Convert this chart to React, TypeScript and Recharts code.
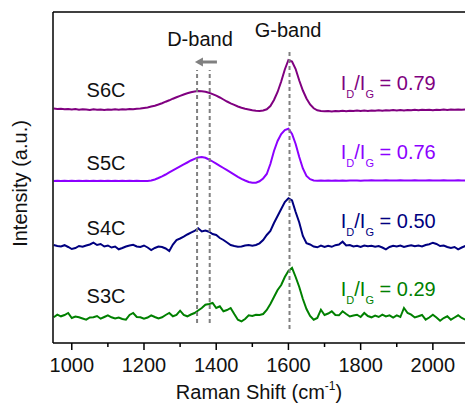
import React from 'react';
import { LineChart, Line, XAxis, YAxis, ReferenceLine, ReferenceDot } from 'recharts';

const FONT = '"Liberation Sans", Arial, Helvetica, sans-serif';

// Raman shift (cm^-1)
const ramanShift: number[] = [
  950, 960, 970, 980, 990, 1000, 1010, 1020, 1030, 1040,
  1050, 1060, 1070, 1080, 1090, 1100, 1110, 1120, 1130, 1140,
  1150, 1160, 1170, 1180, 1190, 1200, 1210, 1220, 1230, 1240,
  1250, 1260, 1270, 1280, 1290, 1300, 1310, 1320, 1330, 1340,
  1350, 1360, 1370, 1380, 1390, 1400, 1410, 1420, 1430, 1440,
  1450, 1460, 1470, 1480, 1490, 1500, 1510, 1520, 1530, 1540,
  1550, 1560, 1570, 1580, 1590, 1600, 1610, 1620, 1630, 1640,
  1650, 1660, 1670, 1680, 1690, 1700, 1710, 1720, 1730, 1740,
  1750, 1760, 1770, 1780, 1790, 1800, 1810, 1820, 1830, 1840,
  1850, 1860, 1870, 1880, 1890, 1900, 1910, 1920, 1930, 1940,
  1950, 1960, 1970, 1980, 1990, 2000, 2010, 2020, 2030, 2040,
  2050, 2060, 2070, 2080, 2090,
];

// Intensities (a.u.) relative to each spectrum's own baseline
const s6c: number[] = [
  1.0, 0.5, 0.8, 0.2, 0.6, 0.0, 0.4, -0.2, 0.3, 0.0,
  -0.4, 0.2, -0.3, 0.1, -0.5, 0.0, -0.3, 0.2, -0.2, 0.3,
  0.0, 0.4, 0.2, 0.8, 1.0, 1.6, 2.0, 3.0, 3.8, 5.0,
  6.3, 7.8, 9.2, 10.8, 12.2, 13.6, 15.0, 16.2, 17.2, 18.0,
  18.6, 18.2, 17.8, 16.8, 15.4, 13.8, 12.0, 10.0, 8.0, 6.2,
  4.6, 3.0, 1.8, 0.8, 0.0, -0.8, -1.2, -1.4, -1.0, 0.2,
  3.5, 9.5, 17.5, 28.0, 40.0, 49.5, 48.0, 40.5, 29.0, 19.0,
  11.0, 5.0, 1.2, -0.8, -1.6, -1.8, -1.4, -2.0, -1.5, -1.8,
  -1.2, -1.7, -1.3, -1.6, -1.0, -1.5, -1.1, -1.4, -0.9, -1.3,
  -0.8, -1.2, -0.7, -1.1, -0.6, -1.0, -0.4, -0.9, -0.5, -0.8,
  -0.3, -0.7, -0.2, -0.6, -0.3, -0.7, -0.2, -0.5, -0.1, -0.4,
  0.0, -0.3, 0.1, -0.2, 0.0,
];

const s5c: number[] = [
  0.0, 0.2, 0.0, 0.3, 0.1, 0.2, 0.0, 0.3, 0.1, 0.2,
  0.0, 0.2, 0.1, 0.3, 0.0, 0.2, 0.1, 0.3, 0.0, 0.2,
  0.1, 0.3, 0.0, 0.2, 0.1, 0.0, 0.0, 0.5, 1.5, 3.0,
  4.6, 6.5, 8.6, 10.6, 12.6, 14.6, 16.6, 18.5, 20.5, 22.2,
  23.5, 24.0, 23.2, 21.5, 19.5, 17.3, 15.2, 13.0, 10.8, 8.6,
  6.4, 4.2, 2.2, 0.5, -1.0, -1.8, -1.7, -0.3, 2.5, 7.0,
  17.0, 30.0, 40.0, 47.0, 51.0, 52.3, 47.0, 37.0, 24.0, 12.5,
  5.0, 1.8, 0.6, 0.3, 0.5, 0.2, 0.4, 0.3, 0.5, 0.2,
  0.5, 0.3, 0.6, 0.4, 0.5, 0.3, 0.6, 0.4, 0.7, 0.5,
  0.6, 0.4, 0.7, 0.5, 0.6, 0.4, 0.7, 0.5, 0.6, 0.5,
  0.7, 0.5, 0.6, 0.4, 0.7, 0.5, 0.6, 0.4, 0.7, 0.5,
  0.6, 0.4, 0.7, 0.5, 0.6,
];

const s4c: number[] = [
  1.0, 0.0, -0.5, 0.8, -1.0, -3.0, -2.0, 0.0, -0.8, 0.5,
  1.5, 3.3, 1.0, 2.0, -0.5, 0.5, -1.5, -0.5, -3.3, -2.0,
  -0.5, 0.5, 1.2, -0.5, -1.0, 0.5, -1.5, -4.0, -2.0, -0.5,
  -1.0, -2.5, -5.0, 1.5, 6.0, 7.5, 9.3, 11.5, 13.3, 15.0,
  17.7, 14.5, 15.5, 14.3, 12.0, 11.0, 8.0, 6.0, 3.5, 1.0,
  0.0, -0.7, -0.5, 0.5, 1.0, 0.3, 1.0, 2.7, 6.0, 11.0,
  15.0, 23.0, 30.0, 37.0, 44.0, 47.7, 45.5, 34.0, 23.5, 10.0,
  2.7, 1.5, -0.5, -1.3, 0.5, -1.0, 0.2, -0.8, 0.8, 1.5,
  4.3, 0.5, 1.0, -0.5, 0.2, -1.0, 0.5, -0.3, 0.2, -0.8,
  0.0, -1.5, -3.3, -1.0, 0.3, -0.5, 0.5, -1.0, 0.0, 0.8,
  -0.3, 0.5, -0.5, 1.0, 1.8, 3.3, 2.0, 0.0, 0.5, -1.0,
  -2.0, -1.0, -3.3, -1.5, 0.0,
];

const s3c: number[] = [
  0.7, 3.3, 1.7, 3.0, 5.0, 0.0, 1.5, 0.7, -0.5, -1.7,
  0.5, 0.7, 2.0, -0.7, 1.0, 2.7, 0.7, -0.5, 0.5, -1.0,
  -1.7, 3.0, 5.0, 1.0, 0.7, -0.7, 0.5, 2.7, 1.0, -0.5,
  0.7, 3.0, 5.0, 1.7, 3.0, 7.3, 3.0, 1.7, 3.5, 5.0,
  7.5, 10.0, 13.3, 14.0, 15.0, 10.0, 11.7, 6.7, 8.0, 10.0,
  4.0, -1.7, -3.3, -1.0, 2.7, 2.0, 3.3, 3.0, 4.0, 8.0,
  14.0, 21.0, 28.0, 33.0, 41.0, 47.0, 50.0, 41.0, 31.0, 19.0,
  9.0, 2.0, -1.7, 0.0, 8.3, 3.0, 4.5, 6.7, 3.0, 2.7,
  6.7, 4.0, 1.5, 2.5, 3.3, 1.0, 5.0, 2.0, 0.7, 2.5,
  1.0, 3.3, 1.5, 2.7, 0.5, 2.7, 1.0, 10.0, 5.0, 3.3,
  0.5, 1.7, 3.0, -1.7, 0.5, 3.3, 0.5, -2.7, 0.0, 1.7,
  -1.7, 0.5, 2.7, 0.0, -1.7,
];

// Series metadata (top to bottom)
const sampleNames: string[] = ['S6C', 'S5C', 'S4C', 'S3C'];
const sampleKeys: string[] = ['s6c', 's5c', 's4c', 's3c'];
const sampleValues: number[][] = [s6c, s5c, s4c, s3c];
const stackOffsets: number[] = [233.5, 162, 97, 25];
const ratioLabels: string[] = ['0.79', '0.76', '0.50', '0.29'];
const sampleColors: string[] = ['#800080', '#8c00ff', '#000080', '#008000'];

// Axis ticks
const xTicks: number[] = [1000, 1100, 1200, 1300, 1400, 1500, 1600, 1700, 1800, 1900, 2000];
const xMajorStep = 200;

// Band markers (cm^-1)
const dBandLines: number[] = [1347, 1382];
const gBandLine = 1603;

// annotation layout (data coordinates)
const nameLabelX = 1041;
const nameLabelY: number[] = [246, 173, 108, 40];
const ratioLabelX = 1745;
const ratioLabelY: number[] = [253, 184, 115, 47];

const data = ramanShift.map((x, i) => {
  const row: Record<string, number> = { x };
  sampleKeys.forEach((k, j) => {
    row[k] = sampleValues[j][i] + stackOffsets[j];
  });
  return row;
});

const XTick = (props: any) => {
  const { x, y, payload } = props;
  const v = payload.value as number;
  const major = v % xMajorStep === 0;
  return (
    <g>
      <line x1={x} x2={x} y1={y} y2={y + (major ? 7 : 4)} stroke="#000" strokeWidth={1.5} />
      {major && (
        <text x={x} y={y + 29} textAnchor="middle" fontSize={20} fontFamily={FONT} fill="#111">
          {v}
        </text>
      )}
    </g>
  );
};

const XTitle = (props: any) => {
  const vb = props.viewBox || { x: 53, y: 343, width: 412, height: 62 };
  const cx = vb.x + vb.width / 2;
  const y = vb.y + 56;
  return (
    <text x={cx} y={y} textAnchor="middle" fontSize={20} fontFamily={FONT} fill="#111">
      <tspan>Raman Shift (cm</tspan>
      <tspan fontSize={12} dy={-9}>-1</tspan>
      <tspan dy={9}>)</tspan>
    </text>
  );
};

const YTitle = (props: any) => {
  const vb = props.viewBox || { x: 0, y: 12, width: 53, height: 331 };
  const x = vb.x + 27;
  const y = vb.y + vb.height / 2 + 6;
  return (
    <text
      x={x}
      y={y}
      transform={`rotate(-90, ${x}, ${y})`}
      textAnchor="middle"
      fontSize={20}
      fontFamily={FONT}
      fill="#111"
    >
      Intensity (a.u.)
    </text>
  );
};

const Arrow = (p: any) => {
  const { x1, y1, x2, y2 } = p;
  const dir = Math.sign(x2 - x1) || -1;
  const head = 8;
  return (
    <g>
      <line x1={x1} y1={y1} x2={x2 - dir * head * 0.7} y2={y2} stroke="#808080" strokeWidth={3} />
      <polygon
        points={`${x2},${y2} ${x2 - dir * head},${y2 - 4.5} ${x2 - dir * head},${y2 + 4.5}`}
        fill="#808080"
      />
    </g>
  );
};

const makeText = (text: string, anchor: 'start' | 'middle', color: string) => (p: any) => (
  <text x={p.cx} y={p.cy} textAnchor={anchor} fontSize={20} fontFamily={FONT} fill={color}>
    {text}
  </text>
);

const makeRatio = (ratio: string, color: string) => (p: any) => (
  <text x={p.cx} y={p.cy} fontSize={20} fontFamily={FONT} fill={color}>
    <tspan>I</tspan>
    <tspan fontSize={11} dy={8}>D</tspan>
    <tspan dy={-8}>/I</tspan>
    <tspan fontSize={11} dy={8}>G</tspan>
    <tspan dy={-8}>{' = ' + ratio}</tspan>
  </text>
);

export default function App() {
  return (
    <div style={{ position: 'absolute', left: 0, top: 0, width: 465, height: 405, overflow: 'hidden', background: '#fff' }}>
      <LineChart width={465} height={405} data={data} margin={{ top: 12, right: 0, left: 0, bottom: 0 }}>
        <XAxis
          dataKey="x"
          type="number"
          domain={[948, 2089]}
          allowDataOverflow
          ticks={xTicks}
          interval={0}
          tickSize={0}
          tickMargin={0}
          tickLine={false}
          tick={<XTick />}
          height={62}
          axisLine={{ stroke: '#000', strokeWidth: 1.5 }}
          label={{ content: (p: any) => <XTitle {...p} /> }}
        />
        <YAxis
          type="number"
          domain={[0, 331]}
          allowDataOverflow
          width={53}
          tick={false}
          tickLine={false}
          axisLine={{ stroke: '#000', strokeWidth: 1.5 }}
          label={{ content: (p: any) => <YTitle {...p} /> }}
        />
        <ReferenceLine y={331} stroke="#000" strokeWidth={1.5} />
        {sampleKeys.map((k, j) => (
          <Line
            key={k}
            type="linear"
            dataKey={k}
            stroke={sampleColors[j]}
            strokeWidth={2}
            dot={false}
            isAnimationActive={false}
          />
        ))}
        {dBandLines.map((x) => (
          <ReferenceLine
            key={'d' + x}
            segment={[{ x, y: 20 }, { x, y: 273 }]}
            stroke="#808080"
            strokeWidth={2}
            strokeDasharray="4 3"
          />
        ))}
        <ReferenceLine
          segment={[{ x: gBandLine, y: 14 }, { x: gBandLine, y: 291 }]}
          stroke="#808080"
          strokeWidth={2}
          strokeDasharray="4 3"
        />
        <ReferenceLine segment={[{ x: 1402, y: 281 }, { x: 1341, y: 281 }]} stroke="#808080" shape={Arrow} />
        <ReferenceDot x={1355} y={297} r={0} shape={makeText('D-band', 'middle', '#111')} />
        <ReferenceDot x={1599} y={306} r={0} shape={makeText('G-band', 'middle', '#111')} />
        {sampleNames.map((n, j) => (
          <ReferenceDot key={n} x={nameLabelX} y={nameLabelY[j]} r={0} shape={makeText(n, 'start', '#111')} />
        ))}
        {ratioLabels.map((r, j) => (
          <ReferenceDot
            key={'r' + j}
            x={ratioLabelX}
            y={ratioLabelY[j]}
            r={0}
            shape={makeRatio(r, sampleColors[j])}
          />
        ))}
      </LineChart>
    </div>
  );
}
